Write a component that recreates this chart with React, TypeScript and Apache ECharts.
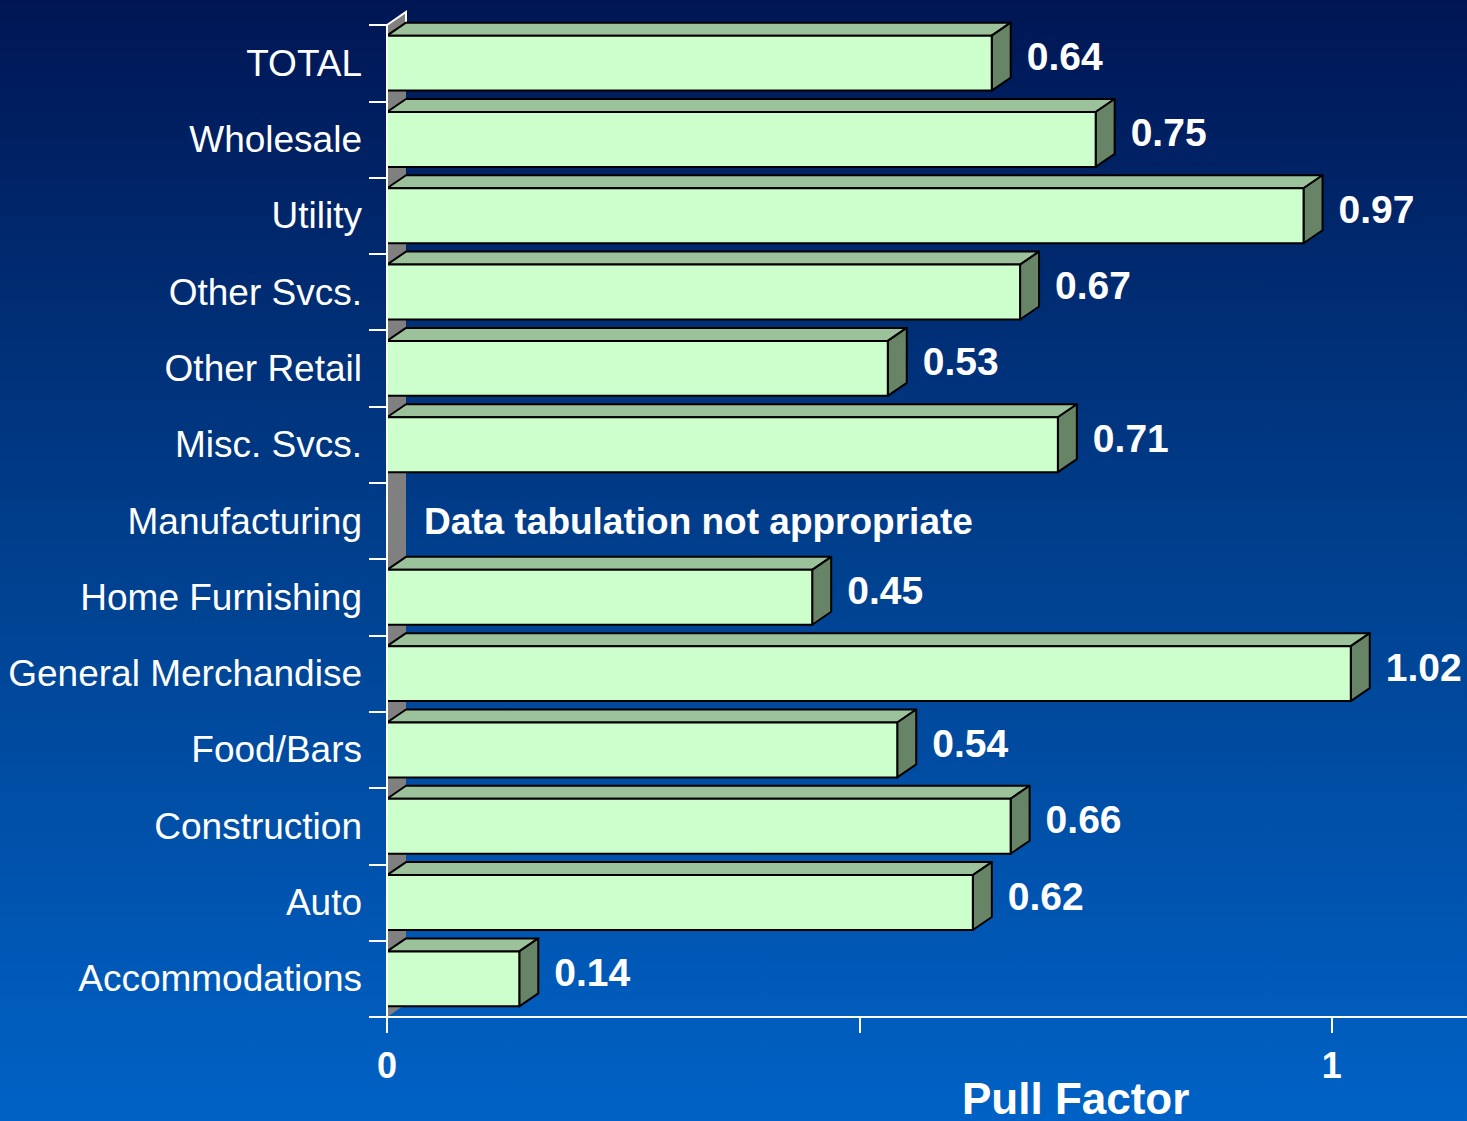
import React, { useEffect, useRef } from "react";
import * as echarts from "echarts";

const categories = [
  "TOTAL",
  "Wholesale",
  "Utility",
  "Other Svcs.",
  "Other Retail",
  "Misc. Svcs.",
  "Manufacturing",
  "Home Furnishing",
  "General Merchandise",
  "Food/Bars",
  "Construction",
  "Auto",
  "Accommodations",
];

const pullFactors: (number | null)[] = [
  0.64, 0.75, 0.97, 0.67, 0.53, 0.71, null, 0.45, 1.02, 0.54, 0.66, 0.62, 0.14,
];

const notes = [
  "", "", "", "", "", "", "Data tabulation not appropriate", "", "", "", "", "", "",
];

const xTickValues = [0, 0.5, 1];
const xTickLabels = [0, 1];
const xMax = 1.143;
const axisTitle = "Pull Factor";

const DX = 19;
const DY = -13;
const FONT = '"Liberation Sans", Arial, sans-serif';

export default function App() {
  const ref = useRef<HTMLDivElement>(null);

  useEffect(() => {
    document.body.style.margin = "0";
    const chart = echarts.init(ref.current!, null, { renderer: "svg" });

    const barData = pullFactors.map((v, i) => [v === null ? 0 : v, i]);

    const option: any = {
      animation: false,
      backgroundColor: {
        type: "linear",
        x: 0,
        y: 0,
        x2: 0,
        y2: 1,
        colorStops: [
          { offset: 0, color: "#001654" },
          { offset: 0.5, color: "#00408E" },
          { offset: 1, color: "#0062C6" },
        ],
      },
      grid: { left: 387, top: 25, right: 0, height: 992 },
      xAxis: {
        type: "value",
        min: 0,
        max: xMax,
        z: 10,
        axisLine: { show: true, lineStyle: { color: "#ffffff", width: 2 } },
        axisTick: {
          show: true,
          length: 16,
          customValues: xTickValues,
          lineStyle: { color: "#ffffff", width: 2 },
        },
        splitLine: { show: false },
        axisLabel: {
          color: "#ffffff",
          fontFamily: FONT,
          fontWeight: "bold",
          fontSize: 36,
          margin: 30,
          customValues: xTickLabels,
          formatter: (v: number) => String(v),
        },
      },
      yAxis: {
        type: "category",
        data: categories,
        inverse: true,
        z: 10,
        axisLine: { show: true, lineStyle: { color: "#ffffff", width: 2 } },
        axisTick: { show: true, length: 18, lineStyle: { color: "#ffffff", width: 2 } },
        axisLabel: {
          color: "#ffffff",
          fontFamily: FONT,
          fontSize: 37,
          margin: 25,
        },
      },
      graphic: [
        {
          type: "text",
          x: 962,
          y: 1098,
          style: {
            text: axisTitle,
            fill: "#ffffff",
            font: `bold 44px ${FONT}`,
            align: "left",
            verticalAlign: "middle",
          },
        },
      ],
      series: [
        {
          type: "custom",
          z: 1,
          data: [[0, 0]],
          renderItem: (params: any, api: any) => {
            const band = api.size([0, 1])[1];
            const first = api.coord([0, 0]);
            const last = api.coord([0, categories.length - 1]);
            const x0 = first[0];
            const top = first[1] - band / 2;
            const bottom = last[1] + band / 2;
            return {
              type: "group",
              children: [
                {
                  type: "polygon",
                  shape: {
                    points: [
                      [x0, top],
                      [x0 + DX, top + DY],
                      [x0 + DX, bottom + DY],
                      [x0, bottom],
                    ],
                  },
                  style: { fill: "#808080" },
                },
                {
                  type: "polyline",
                  shape: {
                    points: [
                      [x0, top],
                      [x0 + DX, top + DY],
                      [x0 + DX, top + DY + 12],
                    ],
                  },
                  style: { stroke: "#ffffff", lineWidth: 2, fill: null },
                },
              ],
            };
          },
        },
        {
          type: "custom",
          z: 2,
          data: barData,
          renderItem: (params: any, api: any) => {
            const idx = params.dataIndex;
            const band = api.size([0, 1])[1];
            const start = api.coord([0, idx]);
            const raw = pullFactors[idx];
            const h = band * 0.72;
            const yc = start[1];
            const yTop = yc - h / 2;
            const yBot = yc + h / 2;
            const x0 = start[0];
            if (raw === null) {
              return {
                type: "text",
                x: x0 + 37,
                y: yc,
                style: {
                  text: notes[idx],
                  fill: "#ffffff",
                  font: `bold 37px ${FONT}`,
                  align: "left",
                  verticalAlign: "middle",
                },
              };
            }
            const end = api.coord([api.value(0), idx]);
            const x1 = end[0];
            const stroke = "#000000";
            return {
              type: "group",
              children: [
                {
                  type: "polygon",
                  shape: {
                    points: [
                      [x0, yTop],
                      [x0 + DX, yTop + DY],
                      [x1 + DX, yTop + DY],
                      [x1, yTop],
                    ],
                  },
                  style: { fill: "#9CC29C", stroke, lineWidth: 2, lineJoin: "round" },
                },
                {
                  type: "polygon",
                  shape: {
                    points: [
                      [x1, yTop],
                      [x1 + DX, yTop + DY],
                      [x1 + DX, yBot + DY],
                      [x1, yBot],
                    ],
                  },
                  style: { fill: "#678467", stroke, lineWidth: 2, lineJoin: "round" },
                },
                {
                  type: "rect",
                  shape: { x: x0, y: yTop, width: x1 - x0, height: yBot - yTop },
                  style: { fill: "#CCFFCC", stroke, lineWidth: 2 },
                },
                {
                  type: "text",
                  x: x1 + DX + 16,
                  y: (yTop + DY + yBot) / 2,
                  style: {
                    text: raw.toFixed(2),
                    fill: "#ffffff",
                    font: `bold 39px ${FONT}`,
                    align: "left",
                    verticalAlign: "middle",
                  },
                },
              ],
            };
          },
        },
      ],
    };

    chart.setOption(option);
    return () => chart.dispose();
  }, []);

  return (
    <div
      ref={ref}
      style={{ position: "fixed", left: 0, top: 0, width: 1467, height: 1121 }}
    />
  );
}
